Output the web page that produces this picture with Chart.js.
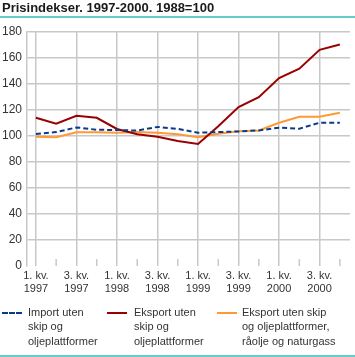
<!DOCTYPE html>
<html>
<head>
<meta charset="utf-8">
<script src="https://cdn.jsdelivr.net/npm/chart.js@4/dist/chart.umd.min.js"></script>
<style>
  html, body { margin: 0; padding: 0; background: #fff; }
  #wrap { position: relative; width: 355px; height: 357px; overflow: hidden; font-family: "Liberation Sans", Arial, sans-serif; }
  #c { position: absolute; left: 0; top: 0; }
  #title { position: absolute; left: 2px; top: 0px; font-size: 13px; font-weight: bold; color: #1a1a1a; white-space: nowrap; line-height: 16px; }
  .rule { position: absolute; left: 0; width: 355px; height: 2px; background: #66cccc; }
  .leg { position: absolute; top: 305px; font-size: 11px; line-height: 14.3px; color: #333; }
  .sw { position: absolute; top: 312px; width: 20px; height: 0; }
</style>
</head>
<body>
<div id="wrap">
  <canvas id="c" width="355" height="357"></canvas>
  <div id="title">Prisindekser. 1997-2000. 1988=100</div>
  <div class="rule" style="top:16px"></div>
  <div class="sw" style="left:2px;border-top:2px dashed #0a3a8c;"></div>
  <div class="leg" style="left:28px">Import uten<br>skip og<br>oljeplattformer</div>
  <div class="sw" style="left:107px;border-top:2px solid #990000;"></div>
  <div class="leg" style="left:134px">Eksport uten<br>skip og<br>oljeplattformer</div>
  <div class="sw" style="left:217px;border-top:2px solid #ff9933;"></div>
  <div class="leg" style="left:242px">Eksport uten skip<br>og oljeplattformer,<br>råolje og naturgass</div>
  <div class="rule" style="top:355px"></div>
</div>
<script>
const quarters = ["1. kv. 1997","2. kv. 1997","3. kv. 1997","4. kv. 1997",
                  "1. kv. 1998","2. kv. 1998","3. kv. 1998","4. kv. 1998",
                  "1. kv. 1999","2. kv. 1999","3. kv. 1999","4. kv. 1999",
                  "1. kv. 2000","2. kv. 2000","3. kv. 2000","4. kv. 2000"];
const xTickLabels = [["1. kv.","1997"], null, ["3. kv.","1997"], null,
                     ["1. kv.","1998"], null, ["3. kv.","1998"], null,
                     ["1. kv.","1999"], null, ["3. kv.","1999"], null,
                     ["1. kv.","2000"], null, ["3. kv.","2000"], null];
const yTicks = [0, 20, 40, 60, 80, 100, 120, 140, 160, 180];
const importUten = [101.5, 103, 106.6, 104.8, 104.6, 104.2, 107, 105.5, 102.5, 103, 103.5, 104.3, 106.4, 105.6, 110.2, 110.2];
const eksportUten = [114, 109.5, 115.5, 114, 105.4, 101.3, 99.5, 96.2, 93.9, 107.5, 122.2, 129.8, 144.6, 151.8, 166.3, 170.4];
const eksportUtenRaolje = [99.5, 99, 102.8, 102.8, 102.5, 103, 102.5, 101.3, 99, 101.8, 103.6, 104.3, 110.2, 114.8, 114.8, 117.9];

const toPts = arr => arr.map((v, i) => ({ x: i, y: v }));

const minorTicks = {
  id: 'minorTicks',
  beforeDatasetsDraw(chart) {
    const { ctx, scales: { x, y } } = chart;
    const b = y.getPixelForValue(0);
    ctx.save();
    ctx.strokeStyle = '#c8c8c8';
    ctx.lineWidth = 1.5;
    quarters.forEach((q, i) => {
      if (i % 2 === 1) {
        const px = x.getPixelForValue(i);
        ctx.beginPath();
        ctx.moveTo(px, b - 7);
        ctx.lineTo(px, b);
        ctx.stroke();
      }
    });
    ctx.restore();
  }
};

new Chart(document.getElementById('c'), {
  type: 'line',
  data: {
    datasets: [
      { label: 'Import uten skip og oljeplattformer', data: toPts(importUten), borderColor: '#0a3a8c', borderWidth: 2, borderDash: [5, 3], pointRadius: 0, fill: false, tension: 0, order: 0 },
      { label: 'Eksport uten skip og oljeplattformer', data: toPts(eksportUten), borderColor: '#990000', borderWidth: 2, pointRadius: 0, fill: false, tension: 0, order: 1 },
      { label: 'Eksport uten skip og oljeplattformer, råolje og naturgass', data: toPts(eksportUtenRaolje), borderColor: '#ff9933', borderWidth: 2, pointRadius: 0, fill: false, tension: 0, order: 2 }
    ]
  },
  options: {
    responsive: false,
    animation: false,
    devicePixelRatio: 1,
    layout: { padding: { left: 0, top: 32, right: 5, bottom: 0 } },
    plugins: { legend: { display: false }, title: { display: false }, tooltip: { enabled: false } },
    scales: {
      x: {
        type: 'linear',
        min: -0.44,
        max: 15.5,
        afterBuildTicks: s => { s.ticks = quarters.map((q, i) => ({ value: i })); },
        afterFit: s => { s.height = 91; },
        ticks: {
          autoSkip: false,
          maxRotation: 0,
          padding: 3,
          color: '#333',
          font: { family: '"Liberation Sans", Arial, sans-serif', size: 11 },
          callback: (v, i) => xTickLabels[i] || ''
        },
        grid: {
          drawTicks: false,
          lineWidth: 1.5,
          color: c => (c.index % 2 === 0 ? '#c8c8c8' : 'rgba(0,0,0,0)')
        },
        border: { display: false }
      },
      y: {
        min: 0,
        max: 180,
        afterBuildTicks: s => { s.ticks = yTicks.map(v => ({ value: v })); },
        afterFit: s => { s.width = 27; },
        ticks: {
          padding: 5,
          color: '#333',
          font: { family: '"Liberation Sans", Arial, sans-serif', size: 12 }
        },
        grid: {
          drawTicks: false,
          lineWidth: 1.5,
          color: c => (c.tick && c.tick.value === 0 ? 'rgba(0,0,0,0)' : '#c8c8c8')
        },
        border: { display: true, color: '#c8c8c8', width: 1.5 }
      }
    }
  },
  plugins: [minorTicks]
});
</script>
</body>
</html>
